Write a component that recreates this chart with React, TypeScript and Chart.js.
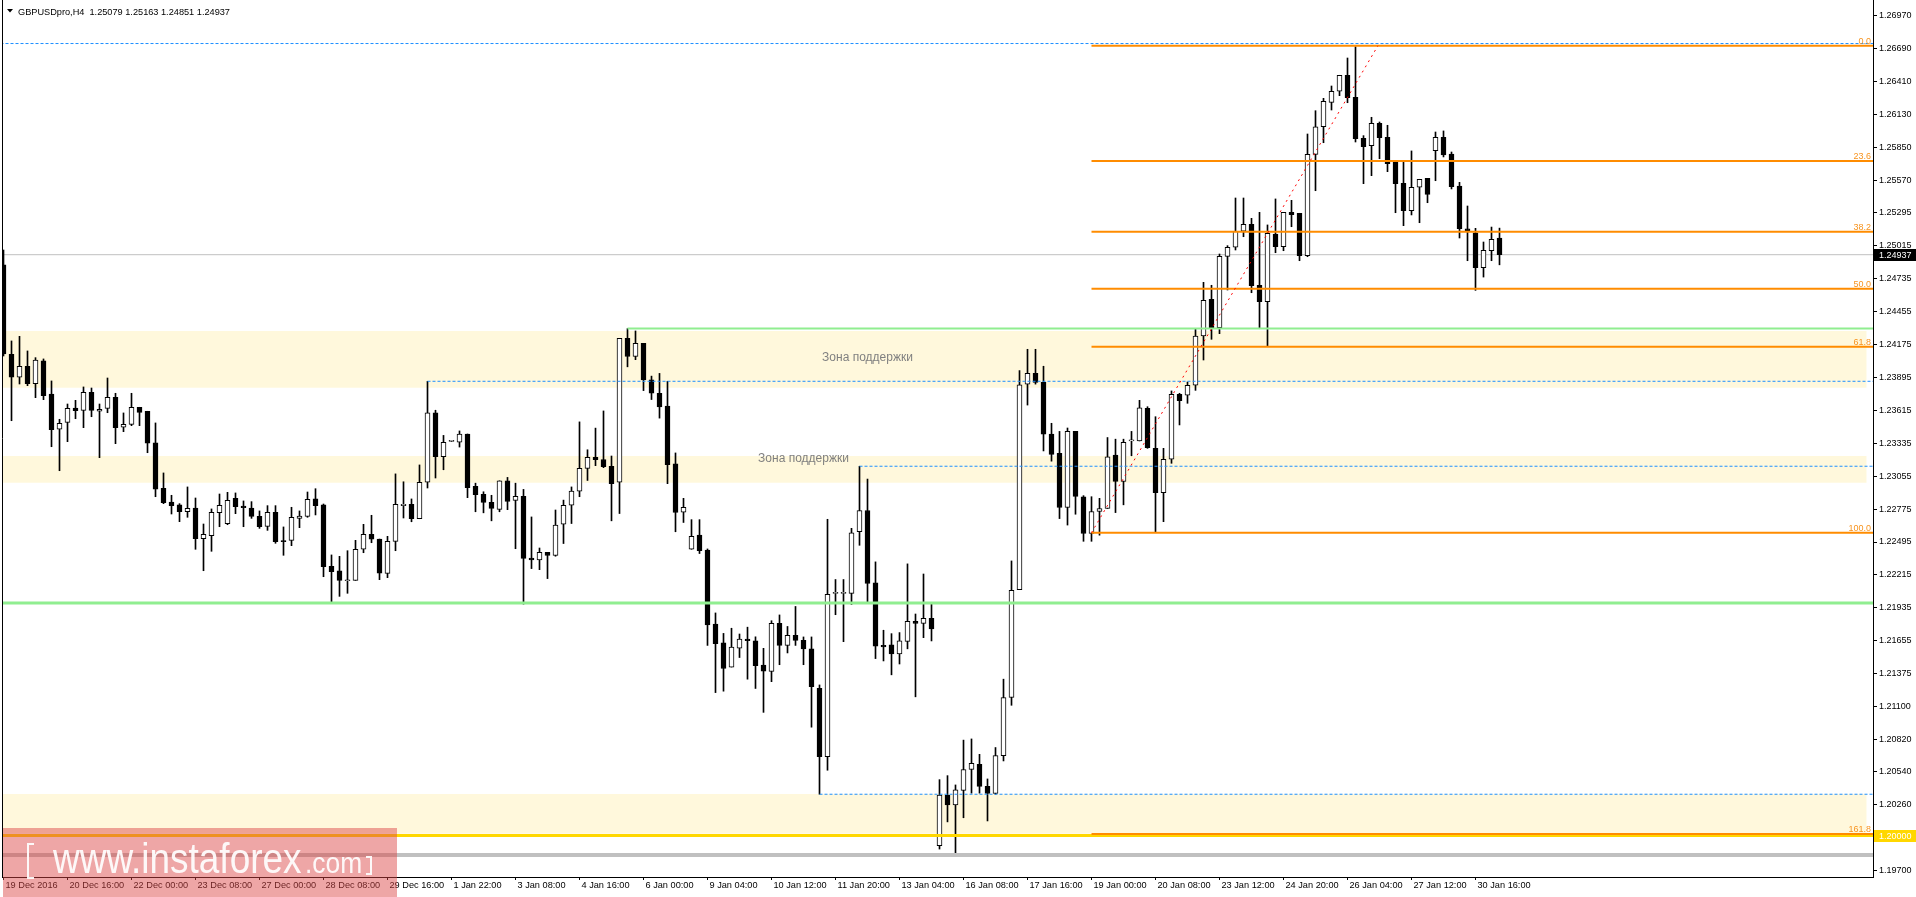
import React, { useEffect, useRef } from 'react';
import { Chart, registerables } from 'chart.js';

Chart.register(...registerables);

// ---------- DATA (GBPUSDpro, H4) ----------
const opens = [
  1.24850,1.24090,1.23895,1.23988,1.23841,1.24034,1.23753,1.23453,1.23512,1.23634,
  1.23614,1.23767,1.23606,1.23631,1.23725,1.23470,1.23495,1.23640,1.23606,1.23337,
  1.22951,1.22835,1.22810,1.22753,1.22784,1.22523,1.22549,1.22744,1.22651,1.22866,
  1.22801,1.22784,1.22713,1.22628,1.22747,1.22504,1.22509,1.22696,1.22713,1.22861,
  1.22810,1.22288,1.22249,1.22166,1.22169,1.22433,1.22560,1.22520,1.22228,1.22500,
  1.22804,1.22816,1.22693,1.23003,1.23592,1.23220,1.23350,1.23343,1.23413,1.22968,
  1.22901,1.22833,1.22772,1.23015,1.22849,1.22883,1.22359,1.22342,1.22407,1.22380,
  1.22646,1.22807,1.22928,1.23121,1.23214,1.23196,1.23138,1.23003,1.24226,1.24072,
  1.24183,1.23873,1.23759,1.23650,1.23159,1.22748,1.22433,1.22553,1.22427,1.21798,
  1.21637,1.21432,1.21592,1.21669,1.21654,1.21448,1.21394,1.21803,1.21616,1.21702,
  1.21659,1.21587,1.21251,1.20671,1.22058,1.22058,1.22058,1.22582,1.22763,1.22147,
  1.21616,1.21620,1.21544,1.21650,1.21820,1.21803,1.21846,1.19914,1.20343,1.20260,
  1.20384,1.20561,1.20605,1.20418,1.20357,1.20679,1.21173,1.22090,1.23837,1.23929,
  1.23852,1.23412,1.23248,1.22788,1.23435,1.22880,1.22567,1.22754,1.22780,1.23234,
  1.23009,1.23354,1.23354,1.23631,1.23291,1.22914,1.23198,1.23750,1.23742,1.23827,
  1.24246,1.24558,1.24317,1.24923,1.25000,1.25136,1.25195,1.24677,1.24538,1.25113,
  1.25005,1.25297,1.25289,1.24929,1.25790,1.26025,1.26232,1.26326,1.26462,1.26275,
  1.25926,1.25864,1.26054,1.25935,1.25722,1.25544,1.25311,1.25510,1.25586,1.25821,
  1.25935,1.25793,1.25521,1.25158,1.25124,1.24827,1.24971,1.25079,
];
const highs = [
  1.24977,1.24204,1.24243,1.24119,1.24062,1.24051,1.23864,1.23538,1.23668,1.23699,
  1.23813,1.23804,1.23668,1.23889,1.23759,1.23592,1.23759,1.23640,1.23606,1.23507,
  1.23082,1.22892,1.22821,1.22963,1.22869,1.22648,1.22776,1.22903,1.22917,1.22912,
  1.22844,1.22838,1.22759,1.22804,1.22804,1.22623,1.22790,1.22759,1.22920,1.22948,
  1.22818,1.22385,1.22373,1.22421,1.22509,1.22645,1.22722,1.22520,1.22543,1.23074,
  1.23007,1.22861,1.23150,1.23861,1.23615,1.23401,1.23355,1.23439,1.23413,1.22995,
  1.22922,1.22892,1.23015,1.23044,1.22995,1.22942,1.22708,1.22444,1.22407,1.22767,
  1.22851,1.22963,1.23516,1.23279,1.23463,1.23609,1.23226,1.24226,1.24309,1.24289,
  1.24183,1.23905,1.23928,1.23861,1.23252,1.22866,1.22685,1.22685,1.22436,1.21892,
  1.21718,1.21762,1.21713,1.21771,1.21689,1.21591,1.21826,1.21875,1.21777,1.21947,
  1.21688,1.21688,1.21280,1.22688,1.22176,1.22176,1.22611,1.23139,1.23030,1.22326,
  1.21745,1.21716,1.21725,1.22309,1.21883,1.22223,1.21975,1.20475,1.20509,1.20430,
  1.20811,1.20821,1.20690,1.20481,1.20748,1.21329,1.22334,1.23952,1.24133,1.24133,
  1.23989,1.23504,1.23435,1.23464,1.23435,1.22889,1.22880,1.22866,1.23383,1.23369,
  1.23369,1.23435,1.23699,1.23645,1.23560,1.23291,1.23779,1.23759,1.23855,1.24306,
  1.24702,1.24677,1.24943,1.25014,1.25419,1.25419,1.25246,1.25297,1.25190,1.25411,
  1.25297,1.25399,1.25289,1.25963,1.26161,1.26266,1.26371,1.26462,1.26609,1.26705,
  1.25949,1.26105,1.26065,1.26037,1.25722,1.25722,1.25819,1.25578,1.25586,1.25980,
  1.25989,1.25810,1.25552,1.25351,1.25161,1.25045,1.25172,1.25163,
];
const lows = [
  1.24076,1.23526,1.23838,1.23824,1.23722,1.23705,1.23305,1.23101,1.23348,1.23543,
  1.23467,1.23560,1.23212,1.23594,1.23331,1.23433,1.23484,1.23484,1.23254,1.22880,
  1.22821,1.22733,1.22668,1.22705,1.22433,1.22251,1.22416,1.22625,1.22642,1.22736,
  1.22625,1.22696,1.22611,1.22594,1.22484,1.22382,1.22464,1.22617,1.22705,1.22725,
  1.22200,1.21982,1.22033,1.22059,1.22169,1.22404,1.22489,1.22175,1.22192,1.22421,
  1.22699,1.22667,1.22693,1.22954,1.23039,1.23109,1.23348,1.23302,1.22872,1.22752,
  1.22743,1.22675,1.22752,1.22770,1.22438,1.21967,1.22269,1.22260,1.22184,1.22374,
  1.22482,1.22652,1.22880,1.23018,1.23144,1.23127,1.22675,1.22737,1.23984,1.24045,
  1.23782,1.23706,1.23548,1.22991,1.22582,1.22661,1.22433,1.22397,1.21616,1.21215,
  1.21227,1.21432,1.21513,1.21329,1.21250,1.21047,1.21308,1.21452,1.21552,1.21616,
  1.21452,1.20921,1.20351,1.20555,1.21877,1.21648,1.21964,1.22467,1.21984,1.21504,
  1.21484,1.21366,1.21458,1.21587,1.21179,1.21682,1.21654,1.19885,1.20116,1.19829,
  1.20151,1.20360,1.20360,1.20124,1.20351,1.20634,1.21107,1.22090,1.23659,1.23837,
  1.23269,1.23182,1.22694,1.22639,1.22731,1.22501,1.22501,1.22553,1.22780,1.22745,
  1.22811,1.23228,1.23354,1.23291,1.22583,1.22668,1.23164,1.23490,1.23674,1.23784,
  1.24042,1.24218,1.24266,1.24637,1.24977,1.25090,1.24614,1.24308,1.24161,1.24954,
  1.24971,1.25175,1.24886,1.24920,1.25481,1.25889,1.26167,1.26289,1.26229,1.25895,
  1.25541,1.25609,1.25753,1.25643,1.25294,1.25184,1.25275,1.25209,1.25379,1.25566,
  1.25768,1.25496,1.25079,1.24886,1.24634,1.24747,1.24886,1.24851,
];
const closes = [
  1.24093,1.23895,1.23988,1.23841,1.24042,1.23739,1.23450,1.23504,1.23631,1.23611,
  1.23767,1.23614,1.23623,1.23725,1.23467,1.23495,1.23640,1.23597,1.23334,1.22943,
  1.22829,1.22804,1.22753,1.22781,1.22523,1.22560,1.22747,1.22807,1.22849,1.22795,
  1.22787,1.22713,1.22625,1.22747,1.22498,1.22498,1.22705,1.22716,1.22858,1.22804,
  1.22285,1.22243,1.22169,1.22172,1.22433,1.22560,1.22518,1.22229,1.22500,1.22816,
  1.22816,1.22693,1.23003,1.23592,1.23220,1.23343,1.23352,1.23413,1.22957,1.22898,
  1.22831,1.22781,1.23015,1.22839,1.22883,1.22356,1.22342,1.22407,1.22380,1.22638,
  1.22807,1.22928,1.23121,1.23214,1.23194,1.23135,1.22991,1.24226,1.24072,1.24183,
  1.23873,1.23759,1.23644,1.23153,1.22746,1.22790,1.22543,1.22421,1.21791,1.21631,
  1.21420,1.21602,1.21669,1.21657,1.21444,1.21396,1.21803,1.21616,1.21702,1.21659,
  1.21587,1.21265,1.20671,1.22050,1.22058,1.22058,1.22573,1.22763,1.22142,1.21610,
  1.21604,1.21544,1.21654,1.21820,1.21803,1.21846,1.21756,1.20343,1.20260,1.20389,
  1.20561,1.20613,1.20418,1.20357,1.20679,1.21173,1.22084,1.23831,1.23929,1.23852,
  1.23412,1.23240,1.22788,1.23435,1.22883,1.22567,1.22754,1.22780,1.23219,1.23009,
  1.23343,1.23354,1.23636,1.23297,1.22914,1.23198,1.23750,1.23696,1.23827,1.24246,
  1.24549,1.24317,1.24923,1.25000,1.25136,1.25195,1.24674,1.24538,1.25119,1.25005,
  1.25297,1.25277,1.24929,1.25790,1.26025,1.26241,1.26326,1.26462,1.26272,1.25923,
  1.25855,1.26054,1.25932,1.25711,1.25541,1.25311,1.25510,1.25578,1.25450,1.25935,
  1.25785,1.25515,1.25158,1.25139,1.24827,1.24974,1.25068,1.24937,
];

const xTickBars = [0, 8, 16, 24, 32, 40, 48, 56, 64, 72, 80, 88, 96, 104, 112, 120, 128, 136, 144, 152, 160, 168, 176, 184];
const xTickLabels = [
  '19 Dec 2016', '20 Dec 16:00', '22 Dec 00:00', '23 Dec 08:00', '27 Dec 00:00', '28 Dec 08:00',
  '29 Dec 16:00', '1 Jan 22:00', '3 Jan 08:00', '4 Jan 16:00', '6 Jan 00:00', '9 Jan 04:00',
  '10 Jan 12:00', '11 Jan 20:00', '13 Jan 04:00', '16 Jan 08:00', '17 Jan 16:00', '19 Jan 00:00',
  '20 Jan 08:00', '23 Jan 12:00', '24 Jan 20:00', '26 Jan 04:00', '27 Jan 12:00', '30 Jan 16:00',
];
const yTickValues = [
  1.26970, 1.26690, 1.26410, 1.26130, 1.25850, 1.25570, 1.25295, 1.25015, 1.24735,
  1.24455, 1.24175, 1.23895, 1.23615, 1.23335, 1.23055, 1.22775, 1.22495, 1.22215,
  1.21935, 1.21655, 1.21375, 1.21100, 1.20820, 1.20540, 1.20260, 1.19980, 1.19700,
];

const fibLabels = ['0.0', '23.6', '38.2', '50.0', '61.8', '100.0', '161.8'];
const fibPrices = [1.26713, 1.25734, 1.25133, 1.24648, 1.24155, 1.22574, 1.20013];
const fibStartBar = 136;
const fibTrendBars = [136, 171.8];
const fibTrendPrices = [1.22574, 1.26713];

const zoneTops = [1.24289, 1.23226, 1.20353];
const zoneBottoms = [1.23807, 1.22999, 1.20015];
const zoneEndBar = 232.9;
const zoneText = 'Зона поддержки';
const zoneTextBars = [108, 100];
const zoneTextPrices = [1.24062, 1.23202];

const blueLineStarts = [-1, 53, 107, 102];
const blueLinePrices = [1.26732, 1.23861, 1.23139, 1.20351];
const greenLineStarts = [78, -1];
const greenLinePrices = [1.24309, 1.21977];

const bidPrice = 1.24937;
const roundLevel = 1.2;
const periodLowLevel = 1.19835;

const titleText = 'GBPUSDpro,H4  1.25079 1.25163 1.24851 1.24937';

const X_MIN = -0.1875;
const X_MAX = 233.6875;
const Y_MIN = 1.196475;
const Y_MAX = 1.27102;

const FONT = '"Liberation Sans", Arial, sans-serif';

// ---------- HELPERS ----------
const hLine = (x0: number, p: number, x1 = X_MAX) => [{ x: x0, y: p }, { x: x1, y: p }];
const lineDs = (data: any[], color: string, width: number, dash: number[] = [], order = 0) => ({
  type: 'line' as const,
  data,
  borderColor: color,
  borderWidth: width,
  borderDash: dash,
  pointRadius: 0,
  fill: false,
  tension: 0,
  order,
});

const overlayPlugin = {
  id: 'mt4Overlay',
  afterDatasetsDraw(chart: any) {
    const { ctx, chartArea, scales } = chart;
    const xs = scales.x;
    const ys = scales.y;
    ctx.save();
    ctx.font = `9px ${FONT}`;
    ctx.fillStyle = '#F7931E';
    ctx.textAlign = 'right';
    ctx.textBaseline = 'alphabetic';
    fibPrices.forEach((p, i) => {
      ctx.fillText(fibLabels[i], chartArea.right - 2, ys.getPixelForValue(p) - 2);
    });
    ctx.font = `12px ${FONT}`;
    ctx.fillStyle = '#808080';
    ctx.textAlign = 'center';
    ctx.textBaseline = 'middle';
    zoneTextBars.forEach((b, i) => {
      ctx.fillText(zoneText, xs.getPixelForValue(b), ys.getPixelForValue(zoneTextPrices[i]));
    });
    ctx.restore();
  },
  afterDraw(chart: any) {
    const { ctx, chartArea, scales } = chart;
    const ys = scales.y;
    ctx.save();
    // left frame line
    ctx.strokeStyle = '#000';
    ctx.lineWidth = 1;
    ctx.beginPath();
    ctx.moveTo(chartArea.left + 0.5, 0);
    ctx.lineTo(chartArea.left + 0.5, chartArea.bottom);
    ctx.stroke();

    // price boxes on the axis
    const box = (price: number, bg: string) => {
      const py = Math.round(ys.getPixelForValue(price));
      ctx.fillStyle = bg;
      ctx.fillRect(chartArea.right + 1, py - 6, 43, 12);
      ctx.fillStyle = '#fff';
      ctx.font = `9px ${FONT}`;
      ctx.textAlign = 'left';
      ctx.textBaseline = 'middle';
      ctx.fillText(price.toFixed(5), chartArea.right + 6, py + 0.5);
    };
    box(bidPrice, '#000');
    box(roundLevel, '#FFD700');

    // title
    ctx.fillStyle = '#000';
    ctx.beginPath();
    ctx.moveTo(7, 9);
    ctx.lineTo(13, 9);
    ctx.lineTo(10, 12.5);
    ctx.closePath();
    ctx.fill();
    ctx.font = `9.2px ${FONT}`;
    ctx.textAlign = 'left';
    ctx.textBaseline = 'alphabetic';
    ctx.fillText(titleText, 18, 15);

    // watermark
    ctx.fillStyle = 'rgba(220,70,70,0.48)';
    ctx.fillRect(3, 828, 394, 69);
    ctx.fillStyle = 'rgba(255,255,255,0.93)';
    ctx.strokeStyle = 'rgba(255,255,255,0.93)';
    ctx.lineWidth = 2;
    ctx.beginPath();
    ctx.moveTo(34, 844);
    ctx.lineTo(28, 844);
    ctx.lineTo(28, 878);
    ctx.lineTo(34, 878);
    ctx.stroke();
    ctx.beginPath();
    ctx.moveTo(366, 857);
    ctx.lineTo(371, 857);
    ctx.lineTo(371, 874);
    ctx.lineTo(366, 874);
    ctx.stroke();
    ctx.textAlign = 'left';
    ctx.textBaseline = 'alphabetic';
    ctx.save();
    ctx.translate(53, 872.5);
    ctx.scale(0.88, 1);
    ctx.font = `42px ${FONT}`;
    ctx.fillText('www.instaforex', 0, 0);
    ctx.restore();
    ctx.save();
    ctx.translate(305, 872.5);
    ctx.scale(0.88, 1);
    ctx.font = `30px ${FONT}`;
    ctx.fillText('.com', 0, 0);
    ctx.restore();
    ctx.restore();
  },
};

export default function App() {
  const ref = useRef<HTMLCanvasElement | null>(null);

  useEffect(() => {
    document.body.style.margin = '0';
    const canvas = ref.current;
    if (!canvas) return;

    const idx = opens.map((_, i) => i);
    const bodyData = idx.map((i) => ({ x: i, y: [opens[i], closes[i]] }));
    const wickData = idx.map((i) => ({ x: i, y: [lows[i], highs[i]] }));
    const bodyColors = idx.map((i) => (closes[i] >= opens[i] ? '#ffffff' : '#000000'));

    const zoneSets = zoneTops.map((t, i) => ({
      type: 'line' as const,
      data: hLine(-2, t, zoneEndBar),
      borderColor: 'rgba(0,0,0,0)',
      borderWidth: 0,
      backgroundColor: '#FFF8DC',
      fill: { value: zoneBottoms[i] },
      pointRadius: 0,
      order: 10,
    }));

    const datasets: any[] = [
      // top-most objects
      lineDs([{ x: fibTrendBars[0], y: fibTrendPrices[0] }, { x: fibTrendBars[1], y: fibTrendPrices[1] }], '#FF0000', 1, [2, 4], 0),
      ...blueLinePrices.map((p, i) => lineDs(hLine(blueLineStarts[i], p), '#1E90FF', 1, [3, 2], 0)),
      ...fibPrices.map((p) => lineDs(hLine(fibStartBar, p), '#FF8C00', 2, [], 0)),
      lineDs(hLine(-1, roundLevel), '#FFD700', 3, [], 0),
      lineDs(hLine(greenLineStarts[0], greenLinePrices[0]), '#90EE90', 2, [], 0),
      lineDs(hLine(greenLineStarts[1], greenLinePrices[1]), '#90EE90', 3, [], 0),
      lineDs(hLine(-1, periodLowLevel), '#C0C0C0', 4, [], 1),
      {
        type: 'bar',
        data: bodyData,
        backgroundColor: bodyColors,
        borderColor: '#000000',
        borderWidth: 1,
        borderSkipped: false,
        barThickness: 5,
        minBarLength: 1,
        grouped: false,
        order: 2,
      },
      {
        type: 'bar',
        data: wickData,
        backgroundColor: '#000000',
        borderWidth: 0,
        barThickness: 1,
        grouped: false,
        order: 3,
      },
      lineDs(hLine(-1, bidPrice), '#C0C0C0', 1, [], 4),
      ...zoneSets,
    ];

    const chart = new Chart(canvas, {
      type: 'bar',
      data: { datasets },
      plugins: [overlayPlugin],
      options: {
        responsive: false,
        devicePixelRatio: 1,
        animation: false,
        events: [],
        layout: { padding: { left: 2, top: 0, right: 0, bottom: 0 }, autoPadding: false },
        plugins: { legend: { display: false }, tooltip: { enabled: false }, title: { display: false } },
        scales: {
          x: {
            type: 'linear',
            position: 'bottom',
            min: X_MIN,
            max: X_MAX,
            offset: false,
            afterBuildTicks: (s: any) => {
              s.ticks = xTickBars.map((v) => ({ value: v }));
            },
            afterFit: (s: any) => {
              s.height = 20;
              s.paddingLeft = 0;
              s.paddingRight = 0;
              s.paddingTop = 0;
              s.paddingBottom = 0;
            },
            ticks: {
              autoSkip: false,
              maxRotation: 0,
              minRotation: 0,
              align: 'start',
              labelOffset: 2,
              padding: 0,
              color: '#000',
              font: { family: FONT, size: 9.2 },
              callback: (_v: any, i: number) => xTickLabels[i] ?? '',
            },
            grid: { drawOnChartArea: false, drawTicks: true, tickLength: 3, color: '#000', offset: false },
            border: { display: true, color: '#000', width: 1 },
          },
          y: {
            type: 'linear',
            position: 'right',
            min: Y_MIN,
            max: Y_MAX,
            afterBuildTicks: (s: any) => {
              s.ticks = yTickValues.map((v) => ({ value: v }));
            },
            afterFit: (s: any) => {
              s.width = 43;
              s.paddingLeft = 0;
              s.paddingRight = 0;
              s.paddingTop = 0;
              s.paddingBottom = 0;
            },
            ticks: {
              autoSkip: false,
              padding: 2,
              color: '#000',
              font: { family: FONT, size: 9 },
              callback: (v: any) => Number(v).toFixed(5),
            },
            grid: { drawOnChartArea: false, drawTicks: true, tickLength: 4, color: '#000' },
            border: { display: true, color: '#000', width: 1 },
          },
        },
      } as any,
    });

    return () => chart.destroy();
  }, []);

  return (
    <div style={{ position: 'absolute', left: 0, top: 0, width: 1916, height: 897, background: '#fff' }}>
      <canvas ref={ref} width={1916} height={897} style={{ display: 'block' }} />
    </div>
  );
}
